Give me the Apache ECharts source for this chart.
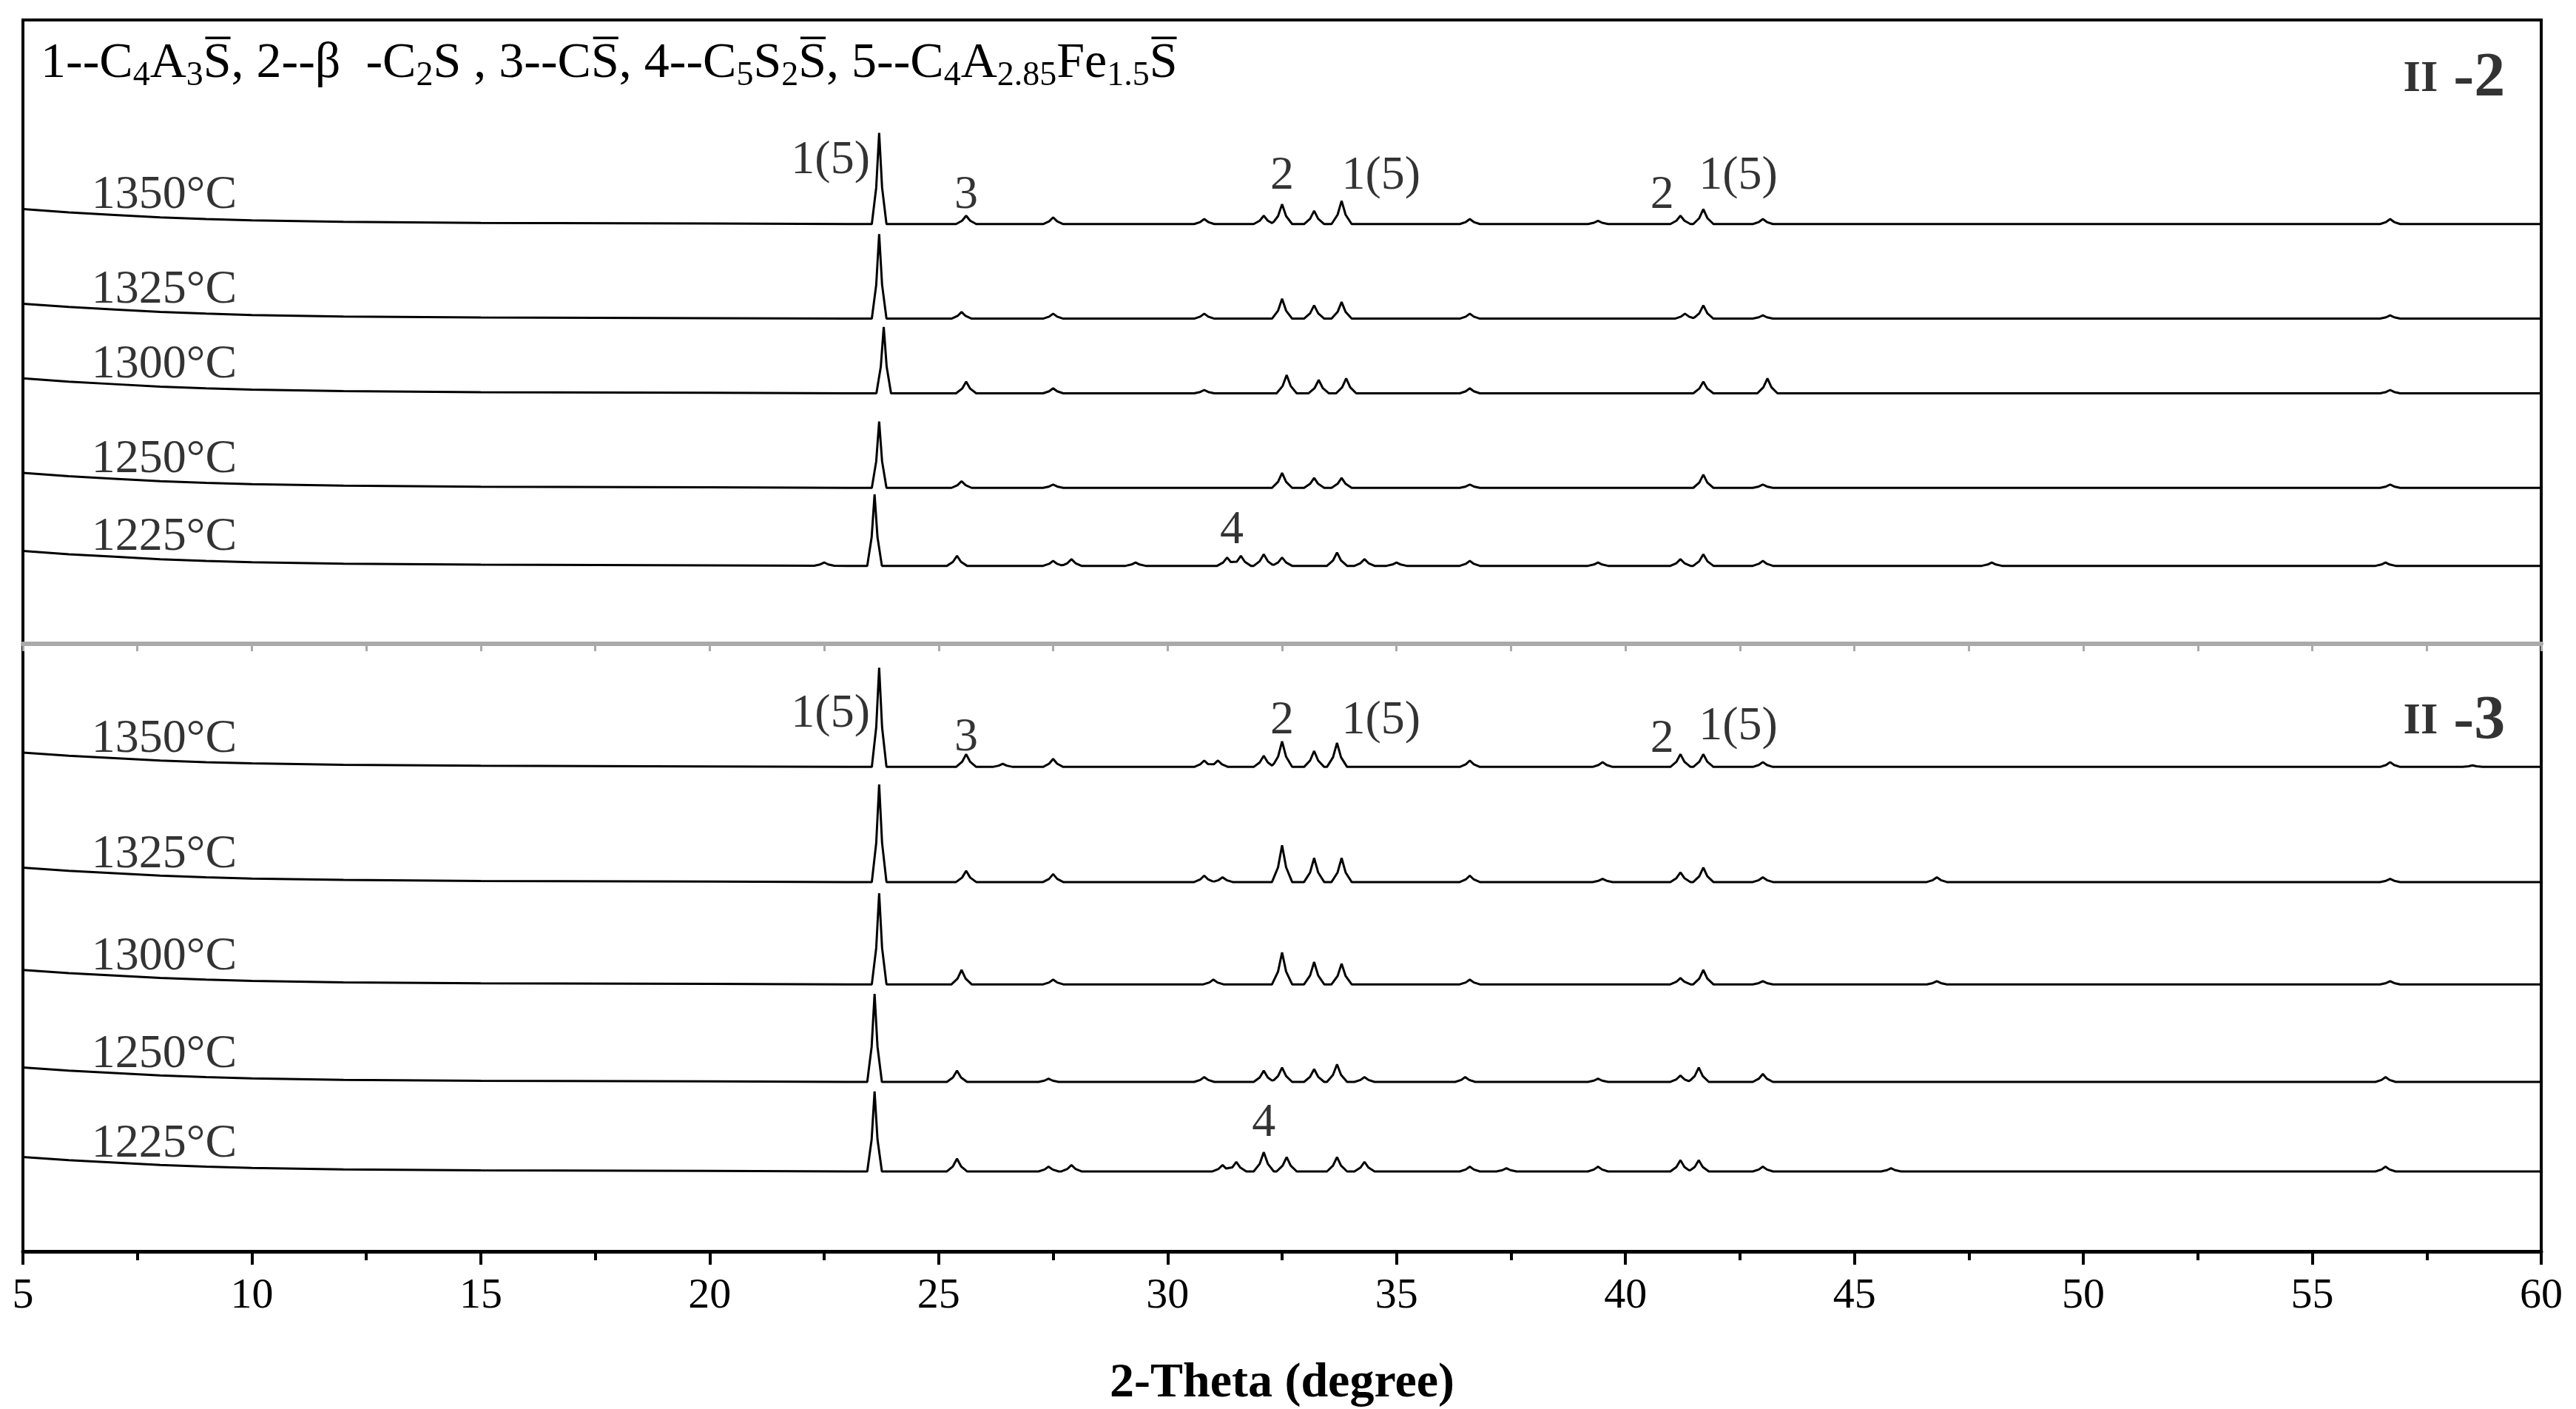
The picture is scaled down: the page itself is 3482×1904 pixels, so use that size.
<!DOCTYPE html>
<html><head><meta charset="utf-8">
<script src="https://cdn.jsdelivr.net/npm/echarts@6/dist/echarts.min.js"></script>
<style>html,body{margin:0;padding:0;background:#fff}#c{width:3482px;height:1904px}</style>
</head><body><div id="c"></div>
<script>
// 2-theta range and ticks
const xMin = 5, xMax = 60;
const temps = ['1350°C','1325°C','1300°C','1250°C','1225°C'];
// baseline offsets (arbitrary stacked intensity units)
const offsetsII2 = [253, 196, 151, 94, 47];
const offsetsII3 = [303, 231, 167, 106, 50];
// background hump at low angle: [2theta, extra intensity]
const background = [[5,9],[6,7],[7,5.5],[8,4],[9,3],[10,2.2],[12,1.3],[15,0.7],[20,0.3],[23,0],[60,0]];
// peaks: [2theta, height]
const II2_1350 = [[23.7,55],[25.6,5],[27.5,4],[30.8,3],[32.1,5],[32.5,12],[33.2,8],[33.8,14],[36.6,3],[39.4,2],[41.2,5],[41.7,9],[43.0,3],[56.7,3]];
const II2_1325 = [[23.7,51],[25.5,4],[27.5,3],[30.8,3],[32.5,12],[33.2,8],[33.8,10],[36.6,3],[41.3,3],[41.7,8],[43.0,2],[56.7,2]];
const II2_1300 = [[23.8,40],[25.6,7],[27.5,3],[30.8,2],[32.6,11],[33.3,8],[33.9,9],[36.6,3],[41.7,7],[43.1,9],[56.7,2]];
const II2_1250 = [[23.7,40],[25.5,4],[27.5,2],[32.5,9],[33.2,6],[33.8,6],[36.6,2],[41.7,8],[43.0,2],[56.7,2]];
const II2_1225 = [[22.5,2],[23.6,43],[25.4,6],[27.5,3],[27.9,4],[29.3,2],[31.3,5],[31.6,6],[32.1,7],[32.5,5],[33.7,8],[34.3,4],[35.0,2],[36.6,3],[39.4,2],[41.2,4],[41.7,7],[43.0,3],[48.0,2],[56.6,2]];
const II3_1350 = [[23.7,62],[25.6,8],[26.4,2],[27.5,5],[30.8,4],[31.1,4],[32.1,7],[32.5,16],[33.2,10],[33.7,15],[36.6,4],[39.5,3],[41.2,8],[41.7,8],[43.0,3],[56.7,3],[58.5,1]];
const II3_1325 = [[23.7,61],[25.6,7],[27.5,5],[30.8,4],[31.2,3],[32.5,23],[33.2,15],[33.8,15],[36.6,4],[39.5,2],[41.2,6],[41.7,9],[43.0,3],[46.8,3],[56.7,2]];
const II3_1300 = [[23.7,57],[25.5,9],[27.5,3],[31.0,3],[32.5,20],[33.2,14],[33.8,13],[36.6,3],[41.2,4],[41.7,9],[43.0,2],[46.8,2],[56.7,2]];
const II3_1250 = [[23.6,55],[25.4,7],[27.4,2],[30.8,3],[32.1,7],[32.5,9],[33.2,8],[33.7,11],[34.3,3],[36.5,3],[39.4,2],[41.2,4],[41.6,9],[43.0,5],[56.6,3]];
const II3_1225 = [[23.6,50],[25.4,8],[27.4,3],[27.9,4],[31.2,4],[31.5,6],[32.1,12],[32.6,9],[33.7,9],[34.3,6],[36.6,3],[37.4,2],[39.4,3],[41.2,7],[41.6,7],[43.0,3],[45.8,2],[56.6,3]];
const peaksII2 = [II2_1350, II2_1325, II2_1300, II2_1250, II2_1225];
const peaksII3 = [II3_1350, II3_1325, II3_1300, II3_1250, II3_1225];
// peak annotations: [2theta, intensity, text, align]
const annII2 = [[23.5,291,'1(5)','right'],[25.6,270,'3','center'],[32.5,282,'2','center'],[33.8,282,'1(5)','left'],[40.8,270,'2','center'],[41.6,282,'1(5)','left'],[31.4,68,'4','center']];
const annII3 = [[23.5,336,'1(5)','right'],[25.6,321,'3','center'],[32.5,332,'2','center'],[33.8,332,'1(5)','left'],[40.8,320,'2','center'],[41.6,328,'1(5)','left'],[32.1,80,'4','center']];

function bgAt(x){for(let i=1;i<background.length;i++){const a=background[i-1],b=background[i];if(x<=b[0])return a[1]+(b[1]-a[1])*(x-a[0])/(b[0]-a[0]);}return 0;}
function trace(peaks, off){
  const pts=[];
  background.forEach(p=>pts.push(p[0]));
  peaks.forEach(p=>{const w=p[1]>30?0.16:0.22;pts.push(p[0]-w,p[0]-w*0.4,p[0],p[0]+w*0.4,p[0]+w);});
  const xs=[...new Set(pts)].sort((a,b)=>a-b);
  return xs.map(x=>{let y=off+bgAt(x);peaks.forEach(p=>{const w=p[1]>30?0.16:0.22;const d=Math.abs(x-p[0]);if(d<w){y+= d<=w*0.4? p[1]*(1-0.6*d/(w*0.4)) : p[1]*0.4*(w-d)/(w*0.6);}});return [x,y];});
}
const F='"Liberation Serif", "Times New Roman", serif';
const series=[];
[[peaksII2,offsetsII2,annII2,0],[peaksII3,offsetsII3,annII3,1]].forEach(([pk,off,ann,g])=>{
  pk.forEach((p,i)=>{
    series.push({type:'line',xAxisIndex:g,yAxisIndex:g,data:trace(p,off[i]),symbol:'none',lineStyle:{color:'#000',width:3},animation:false});
  });
  series.push({type:'scatter',xAxisIndex:g,yAxisIndex:g,symbolSize:0,animation:false,silent:true,
    data:temps.map((t,i)=>({value:[6.5,off[i]+17],label:{show:true,formatter:t,position:'right',distance:0,fontFamily:F,fontSize:64,color:'#000'}}))});
  series.push({type:'scatter',xAxisIndex:g,yAxisIndex:g,symbolSize:0,animation:false,silent:true,
    data:ann.map(a=>({value:[a[0],a[1]],label:{show:true,formatter:a[2],position:'inside',align:a[3],fontFamily:F,fontSize:64,color:'#000'}}))});
  series.push({type:'scatter',xAxisIndex:g,yAxisIndex:g,symbolSize:0,animation:false,silent:true,
    data:[{value:[58.1,g?331:340],label:{show:true,formatter:g?'{a|II}{b| -3}':'{a|II}{b| -2}',position:'inside',rich:{a:{fontFamily:F,fontSize:60,fontWeight:'bold',color:'#000'},b:{fontFamily:F,fontSize:84,fontWeight:'bold',color:'#000'}}}}]});
});
const chart=echarts.init(document.getElementById('c'));
chart.setOption({
  backgroundColor:'#fff',
  grid:[{left:31,right:47,top:27,height:843,show:true,borderColor:'#000',borderWidth:4},
        {left:31,right:47,top:870,bottom:181,show:true,borderColor:'#000',borderWidth:4}],
  xAxis:[
    {gridIndex:0,type:'value',min:xMin,max:xMax,interval:5,z:10,
     axisLine:{lineStyle:{color:'#aaaaaa',width:6}},axisTick:{show:true,length:10,lineStyle:{color:'#aaaaaa',width:3}},
     minorTick:{show:true,splitNumber:2,length:10,lineStyle:{color:'#aaaaaa',width:3}},axisLabel:{show:false},splitLine:{show:false}},
    {gridIndex:1,type:'value',min:xMin,max:xMax,interval:5,
     axisLine:{lineStyle:{color:'#000',width:5}},axisTick:{show:true,length:18,inside:false,lineStyle:{color:'#000',width:4}},
     minorTick:{show:true,splitNumber:2,length:12,lineStyle:{color:'#000',width:4}},
     axisLabel:{fontFamily:F,fontSize:58,color:'#000',margin:32},splitLine:{show:false},
     name:'2-Theta (degree)',nameLocation:'middle',nameGap:146,nameTextStyle:{fontFamily:F,fontSize:66,fontWeight:'bold',color:'#000'}}
  ],
  yAxis:[{gridIndex:0,type:'value',min:0,max:376,show:false},{gridIndex:1,type:'value',min:0,max:380,show:false}],
  graphic:[{type:'text',left:55,top:52,style:{
    text:'1--C{s|4}A{s|3}S̅, 2--β  -C{s|2}S , 3--CS̅, 4--C{s|5}S{s|2}S̅, 5--C{s|4}A{s|2.85}Fe{s|1.5}S̅',
    font:'68px '+F,fill:'#000',
    rich:{s:{fontSize:46,fontFamily:F,padding:[34,0,0,0],fill:'#000'}}}}],
  series:series
});
</script></body></html>
